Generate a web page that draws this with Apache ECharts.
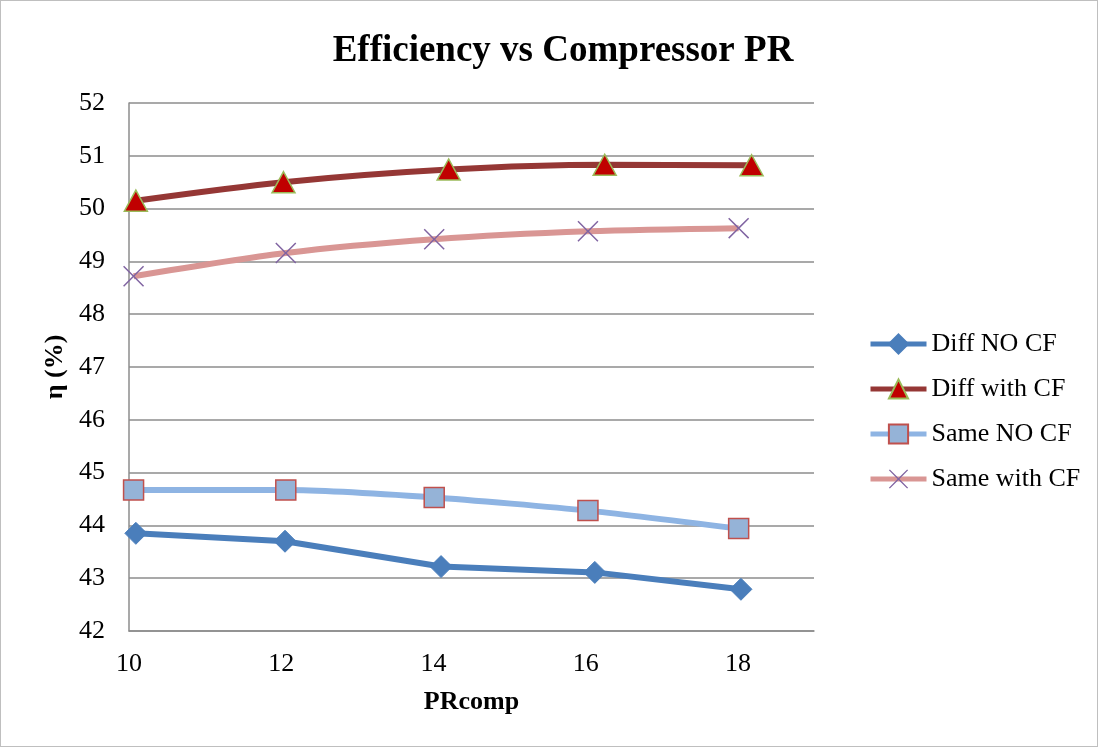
<!DOCTYPE html>
<html>
<head>
<meta charset="utf-8">
<script src="https://cdn.jsdelivr.net/npm/echarts@6/dist/echarts.min.js"></script>
<style>
html,body{margin:0;padding:0;background:#fff;}
#wrap{position:absolute;left:0;top:0;width:1096px;height:745px;border:1px solid #bfbfbf;}
#chart{width:1096px;height:745px;}
</style>
</head>
<body>
<div id="wrap"><div id="chart"></div></div>
<script>
var seriesNames = ['Diff NO CF', 'Diff with CF', 'Same NO CF', 'Same with CF'];
var diffNoCfX = [10.09, 12.05, 14.1, 16.12, 18.04];
var diffNoCfY = [43.85, 43.70, 43.22, 43.11, 42.79];
var diffCfX = [10.09, 12.03, 14.2, 16.25, 18.18];
var diffCfY = [50.15, 50.50, 50.74, 50.83, 50.82];
var sameNoCfX = [10.06, 12.06, 14.01, 16.03, 18.01];
var sameNoCfY = [44.67, 44.67, 44.53, 44.28, 43.94];
var sameCfX = [10.06, 12.06, 14.01, 16.03, 18.01];
var sameCfY = [48.72, 49.16, 49.42, 49.57, 49.63];
var xTicks = [10, 12, 14, 16, 18];

function pairs(xs, ys){ return xs.map(function(x,i){ return [x, ys[i]]; }); }

var crossPath = 'path://M0,1 L1,0 L10,9 L19,0 L20,1 L11,10 L20,19 L19,20 L10,11 L1,20 L0,19 L9,10 Z';

var chart = echarts.init(document.getElementById('chart'));
var serif = '"Liberation Serif","DejaVu Serif",serif';
chart.setOption({
  animation: false,
  title: {
    text: 'Efficiency vs Compressor PR',
    left: 557, top: 27, textAlign: 'center',
    textStyle: {fontFamily: serif, fontSize: 37, fontWeight: 'bold', color: '#000'}
  },
  legend: {
    orient: 'vertical',
    left: 862, top: 325,
    itemWidth: 56, itemHeight: 24, itemGap: 19,
    data: seriesNames,
    lineStyle: {width: 5},
    textStyle: {fontFamily: serif, fontSize: 26, color: '#000'}
  },
  grid: {left: 128, right: 283, top: 102, bottom: 115},
  xAxis: {
    type: 'value', min: 10, max: 19, interval: 2,
    name: 'PRcomp', nameLocation: 'middle', nameGap: 58,
    nameTextStyle: {fontFamily: serif, fontSize: 26, fontWeight: 'bold', color: '#000'},
    axisLine: {show: true, lineStyle: {color: '#8c8c8c', width: 1.5}},
    axisTick: {show: false},
    splitLine: {show: false},
    axisLabel: {fontFamily: serif, fontSize: 26, color: '#000', margin: 20, showMaxLabel: false,
      formatter: function(v){ return xTicks.indexOf(v) >= 0 ? String(v) : ''; }}
  },
  yAxis: {
    type: 'value', min: 42, max: 52, interval: 1,
    name: 'η (%)', nameLocation: 'middle', nameGap: 58, nameRotate: 90,
    nameTextStyle: {fontFamily: serif, fontSize: 26, fontWeight: 'bold', color: '#000'},
    axisLine: {show: true, lineStyle: {color: '#8c8c8c', width: 1.5}},
    axisTick: {show: false},
    splitLine: {show: true, lineStyle: {color: '#8c8c8c', width: 1.5}},
    axisLabel: {fontFamily: serif, fontSize: 26, color: '#000', margin: 24}
  },
  series: [
    {
      name: seriesNames[0], type: 'line', data: pairs(diffNoCfX, diffNoCfY),
      symbol: 'diamond', symbolSize: 22,
      lineStyle: {color: '#4a7ebb', width: 6},
      itemStyle: {color: '#4a7ebb', borderColor: '#4a7ebb', borderWidth: 1}
    },
    {
      name: seriesNames[1], type: 'line', data: pairs(diffCfX, diffCfY),
      smooth: 0.3,
      symbol: 'triangle', symbolSize: [23, 21],
      lineStyle: {color: '#953735', width: 6},
      itemStyle: {color: '#c00000', borderColor: '#9bbb59', borderWidth: 1.5}
    },
    {
      name: seriesNames[2], type: 'line', data: pairs(sameNoCfX, sameNoCfY),
      smooth: 0.2,
      symbol: 'rect', symbolSize: 20,
      lineStyle: {color: '#8eb4e3', width: 6},
      itemStyle: {color: '#95b3d7', borderColor: '#c0504d', borderWidth: 1.5}
    },
    {
      name: seriesNames[3], type: 'line', data: pairs(sameCfX, sameCfY),
      smooth: 0.3,
      symbol: crossPath, symbolSize: 21,
      lineStyle: {color: '#d99694', width: 6},
      itemStyle: {color: '#8064a2', borderWidth: 0}
    }
  ]
});
</script>
</body>
</html>
